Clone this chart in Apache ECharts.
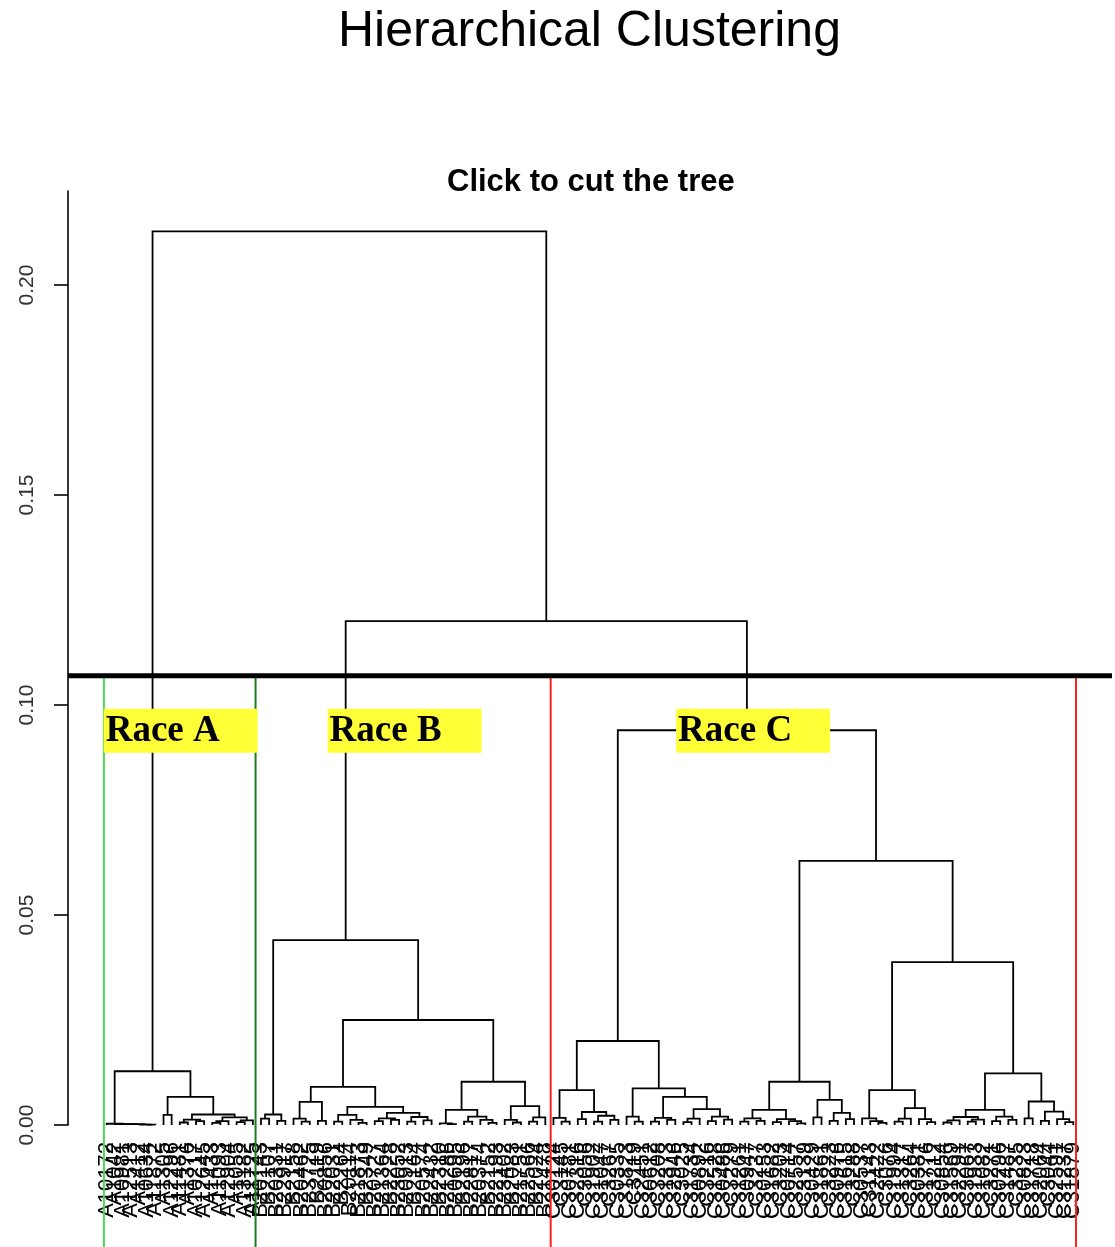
<!DOCTYPE html>
<html><head><meta charset="utf-8">
<script src="https://cdn.jsdelivr.net/npm/echarts@6/dist/echarts.min.js"></script>
<style>html,body{margin:0;padding:0;background:#fff}#chart{width:1115px;height:1247px}</style>
</head><body><div id="chart"></div>
<script>
// ---- data ----
const yTicks = [0, 0.05, 0.10, 0.15, 0.20];
const yTickLabels = ['0.00', '0.05', '0.10', '0.15', '0.20'];

const raceALabels = ['A10172','A1042','A10981','A12513','A1412','A10634','A11872','A1305','A12296','A11481',
  'A1376','A10217','A12645','A1433','A11093','A12904','A1055','A13182','A11725'];
const raceBLabels = ['B20143','B2107','B20331','B22917','B2158','B20462','B23725','B2119','B20856','B22031',
  'B2264','B20114','B21873','B2349','B20727','B21364','B2228','B23052','B20913','B2164',
  'B20574','B22432','B2310','B21286','B20695','B2196','B22817','B20374','B2152','B22193',
  'B23402','B2083','B21751','B22566','B2024','B21478'];
const raceCLabels = ['C30124','C3145','C30781','C32316','C3056','C31902','C31047','C3267','C30335','C31823',
  'C3119','C32451','C30612','C3208','C31373','C32946','C3025','C31734','C30892','C3216',
  'C31528','C30486','C3279','C31261','C30947','C3237','C30153','C31682','C3203','C30714',
  'C32557','C3139','C30429','C31861','C3223','C30976','C31615','C3288','C30537','C31143',
  'C32422','C3076','C31994','C31317','C3264','C30381','C31776','C3212','C30854','C31569',
  'C32291','C3067','C31933','C31082','C3271','C30296','C31487','C3235','C30823','C31718',
  'C32064','C3044','C32591','C31237','C31879'];

// merge trees: [left, right, height]; a number is a leaf (index into the race's labels)
const raceATree =
  [[1,[2,[3,[4,[5,[6,7,0.0001],0.0001],0.0002],0.0002],0.0002],0.0003],
   [[8,9,0.0024],
    [[[10,11,0.0006],[12,13,0.0009],0.0013],
     [[[14,15,0.0005],16,0.0009],[[17,18,0.0007],19,0.0011],0.0018],0.0025],0.0067],
   0.0128];

const raceBTree =
  [[[1,2,0.0015],[3,4,0.0010],0.0025],
   [[[[5,[6,7,0.0008],0.0015],[8,9,0.0010],0.0055],
     [[[10,11,0.0008],[12,[13,14,0.0005],0.0012],0.0024],
      [[[15,16,0.0009],[17,18,0.0012],0.0016],[[19,20,0.0008],[21,22,0.0011],0.0019],0.0029],
      0.0043],
     0.0091],
    [[[23,[24,25,0.0002],0.0004],[[26,27,0.0008],[28,[29,30,0.0005],0.0012],0.0020],0.0036],
     [[31,[32,33,0.0006],0.0012],[[34,35,0.0008],36,0.0018],0.0045],
     0.0103],
    0.0250],
   0.0440];

const raceCTree =
  [[[[1,[2,3,0.0008],0.0017],[[4,5,0.0014],[[6,7,0.0008],[8,9,0.0012],0.0022],0.0031],0.0083],
    [[10,[11,12,0.0008],0.0020],
     [[[13,14,0.0008],[15,16,0.0012],0.0017],
      [[[17,18,0.0007],19,0.0015],[[20,21,0.0009],[22,23,0.0013],0.0020],0.0038],
      0.0067],
     0.0087],
    0.0200],
   [[[[[24,25,0.0008],[26,27,0.0010],0.0016],[[28,29,0.0007],[30,[31,32,0.0004],0.0009],0.0014],0.0036],
     [[33,34,0.0018],[[35,36,0.0010],[37,38,0.0014],0.0029],0.0060],
     0.0103],
    [[[39,[40,[41,42,0.0005],0.0009],0.0016],[[[43,44,0.0008],45,0.0015],[46,[47,48,0.0007],0.0014],0.0040],0.0083],
     [[[[[49,50,0.0006],51,0.0011],[[52,53,0.0008],54,0.0013],0.0019],[[55,56,0.0009],[57,58,0.0012],0.0020],0.0036],
      [[59,60,0.0016],[[61,62,0.0010],[63,[64,65,0.0007],0.0014],0.0032],0.0056],
      0.0123],
     0.0388],
    0.0629],
   0.0940];

const raceBCHeight = 0.1200;
const rootHeight = 0.2128;
const cutHeight = 0.107;

const raceNames = ['Race A', 'Race B', 'Race C'];
const raceNameX = [0.63, 28.2, 71.1];      // leaf-axis units
const raceNameY = [0.0991, 0.0991, 0.0991];

// ---- build layout through leaf order ----
const leaves = [];
const segs = [];
function layout(node, labels) {
  if (typeof node === 'number') { leaves.push(labels[node - 1]); return { x: leaves.length, h: 0 }; }
  const a = layout(node[0], labels), b = layout(node[1], labels);
  segs.push([a.x, a.h, b.x, b.h, node[2]]);
  return { x: (a.x + b.x) / 2, h: node[2] };
}
const A = layout(raceATree, raceALabels);
const aEnd = leaves.length;
const B = layout(raceBTree, raceBLabels);
const bEnd = leaves.length;
const C = layout(raceCTree, raceCLabels);
segs.push([B.x, B.h, C.x, C.h, raceBCHeight]);
const bcX = (B.x + C.x) / 2;
segs.push([A.x, A.h, bcX, raceBCHeight, rootHeight]);

const N = leaves.length;
const pad = 0.04 * (N - 1);
const xMin = 1 - pad, xMax = N + pad;
const boxBottom = -0.03;
// rect.hclust style boxes: [left, right, top, bottom]
const boxes = [
  [1 - 0.34, aEnd + 0.33, cutHeight, boxBottom],
  [bEnd + 1 - 0.34, N + 0.33, cutHeight, boxBottom]
];
const boxColors = [['#4fd84f', '#1d7a1d'], ['#ff2020', '#ff2020']];

const chart = echarts.init(document.getElementById('chart'));
chart.setOption({
  animation: false,
  backgroundColor: '#fff',
  title: [
    { text: 'Hierarchical Clustering', left: 333, top: 2,
      textStyle: { fontSize: 50, fontWeight: 'normal', fontFamily: 'Liberation Sans', color: '#000' } },
    { text: 'Click to cut the tree', left: 442, top: 162,
      textStyle: { fontSize: 31, fontWeight: 'bold', fontFamily: 'Liberation Sans', color: '#000' } }
  ],
  grid: { left: 68, right: 3, top: 191, bottom: 122, outerBoundsMode: 'none' },
  xAxis: { type: 'value', min: xMin, max: xMax, show: false },
  yAxis: {
    type: 'value', min: 0, max: 0.2224, interval: 0.05,
    axisLine: { show: true, onZero: false, lineStyle: { color: '#000', width: 1.6 } },
    axisTick: { show: true, length: 14, customValues: yTicks, lineStyle: { color: '#000', width: 1.6 } },
    axisLabel: {
      customValues: yTicks, rotate: 90, margin: 30, fontSize: 21, color: '#333',
      fontFamily: 'Liberation Sans',
      formatter: v => { const i = yTicks.findIndex(t => Math.abs(t - v) < 1e-9); return i >= 0 ? yTickLabels[i] : ''; }
    },
    splitLine: { show: false }
  },
  series: [
    {
      type: 'custom', name: 'tree', clip: false, z: 2,
      data: segs,
      renderItem: (p, api) => {
        const p1 = api.coord([api.value(0), api.value(1)]);
        const p2 = api.coord([api.value(0), api.value(4)]);
        const p3 = api.coord([api.value(2), api.value(4)]);
        const p4 = api.coord([api.value(2), api.value(3)]);
        return { type: 'polyline', shape: { points: [p1, p2, p3, p4] },
          style: { stroke: '#000', lineWidth: 1.8, fill: null } };
      }
    },
    {
      type: 'custom', name: 'leaf labels', clip: false, z: 2,
      data: leaves.map((l, i) => [i + 1, 0]),
      renderItem: (p, api) => {
        const pt = api.coord([api.value(0), api.value(1)]);
        return { type: 'text', x: pt[0], y: pt[1] + 17, rotation: Math.PI / 2,
          style: { text: leaves[p.dataIndex], fill: '#000', fontSize: 22, fontFamily: 'Liberation Sans',
            align: 'right', verticalAlign: 'middle' } };
      }
    },
    {
      type: 'custom', name: 'boxes', clip: false, z: 3,
      data: boxes,
      renderItem: (p, api) => {
        const tl = api.coord([api.value(0), api.value(2)]);
        const br = api.coord([api.value(1), api.value(3)]);
        const c = boxColors[p.dataIndex];
        return { type: 'group', children: [
          { type: 'polyline', shape: { points: [[tl[0], br[1]], tl, [br[0], tl[1]]] },
            style: { stroke: c[0], lineWidth: 2, fill: null } },
          { type: 'line', shape: { x1: br[0], y1: tl[1], x2: br[0], y2: br[1] },
            style: { stroke: c[1], lineWidth: 2 } }
        ] };
      }
    },
    {
      type: 'custom', name: 'race names', clip: false, z: 4,
      data: raceNames.map((n, i) => [raceNameX[i], raceNameY[i]]),
      renderItem: (p, api) => {
        const pt = api.coord([api.value(0), api.value(1)]);
        return { type: 'group', children: [
          { type: 'rect', shape: { x: pt[0], y: pt[1], width: 154, height: 44 }, style: { fill: '#ffff38' } },
          { type: 'text', x: pt[0] + 2, y: pt[1] + 23,
            style: { text: raceNames[p.dataIndex], fill: '#000', fontSize: 37, fontWeight: 'bold',
              fontFamily: 'Liberation Serif', align: 'left', verticalAlign: 'middle' } }
        ] };
      }
    },
    {
      type: 'custom', name: 'cut', clip: false, z: 5,
      data: [[xMin, cutHeight, xMax]],
      renderItem: (p, api) => {
        const a = api.coord([api.value(0), api.value(1)]);
        const b = api.coord([api.value(2), api.value(1)]);
        return { type: 'line', shape: { x1: a[0], y1: a[1], x2: b[0], y2: b[1] },
          style: { stroke: '#000', lineWidth: 5 } };
      }
    }
  ]
});
</script></body></html>
